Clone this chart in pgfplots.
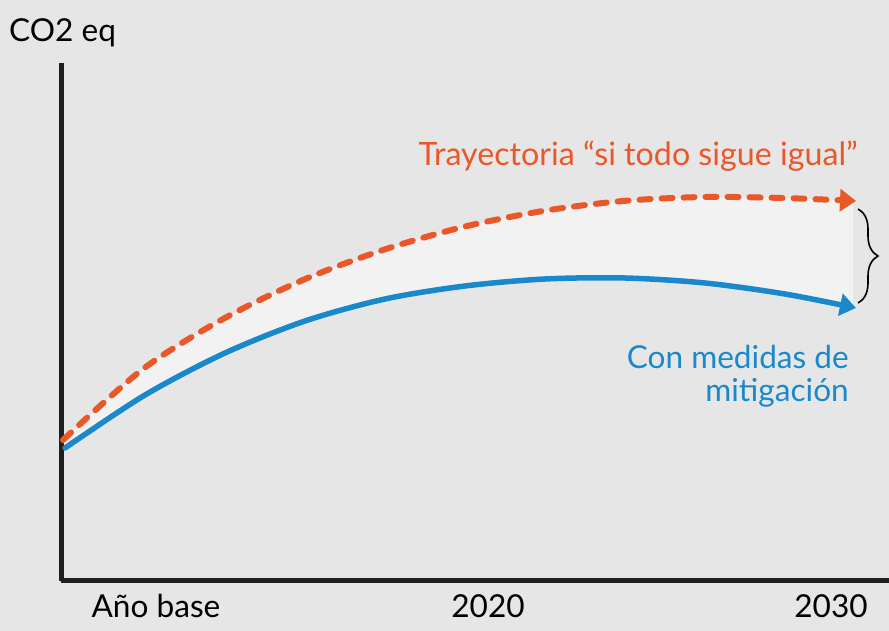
\documentclass[border=0pt]{standalone}
\usepackage{fontspec}
\setmainfont{Lato}
\usepackage{pgfplots}
\pgfplotsset{compat=1.18}
\usepgfplotslibrary{fillbetween}
\usetikzlibrary{arrows.meta,decorations.pathreplacing}
\definecolor{bg}{HTML}{E6E6E6}
\definecolor{band}{HTML}{F2F2F2}
\definecolor{orng}{HTML}{EA5729}
\definecolor{blu}{HTML}{1A89CB}
\definecolor{axc}{HTML}{1F1F1F}
\newcommand{\bigf}{\fontsize{31.6}{37}\selectfont}
\begin{document}
\begin{tikzpicture}
\begin{axis}[
  set layers,
  at={(61pt,50pt)}, anchor=south west,
  scale only axis, width=828pt, height=518pt,
  xmin=61, xmax=889, ymin=50, ymax=568,
  axis lines=left,
  axis line style={line width=5pt, color=axc, -},
  xtick={156,488,831},
  xticklabels={Año base,2020,2030},
  ytick=\empty,
  major tick length=0pt,
  xticklabel style={font=\bigf, anchor=base, yshift=-37pt, text=black},
  clip=false,
]
\begin{pgfonlayer}{axis background}
\fill[bg] (axis cs:0,0) rectangle (axis cs:889,631);
\end{pgfonlayer}
% invisible boundaries for the band
\addplot[draw=none, smooth, name path=A] coordinates {
 (63,191) (143,262) (223,312) (303,351) (383,381) (463,404) (543,420)
 (623,430) (703,434) (783,433) (853,430)};
\addplot[draw=none, smooth, name path=B] coordinates {
 (65,183) (145,236) (225,278) (305,310) (385,332) (465,345) (545,352)
 (625,353) (705,348) (785,337) (853,324)};
\addplot[band] fill between[of=A and B];
% business as usual
\addplot[orng, line width=6pt, smooth, line cap=round, dash pattern=on 11pt off 11pt,
  -{Triangle[length=16pt,width=22pt,line cap=butt]}] coordinates {
 (63,191) (143,262) (223,312) (303,351) (383,381) (463,404) (543,420)
 (623,430) (703,434) (783,433) (856,430)};
% mitigation
\addplot[blu, line width=5.5pt, smooth, line cap=round,
  -{Triangle[length=16pt,width=22pt,line cap=butt]}] coordinates {
 (65,183) (145,236) (225,278) (305,310) (385,332) (465,345) (545,352)
 (625,353) (705,348) (785,337) (856,323)};
\draw[line width=1.6pt, decorate, decoration={brace, amplitude=20pt}]
  (axis cs:858,422) -- (axis cs:858,328);
\node[anchor=base east, text=orng, font=\fontsize{32.2}{38}\selectfont, inner sep=0pt]
  at (axis cs:858,465) {Trayectoria “si todo sigue igual”};
\node[anchor=base east, text=blu, font=\bigf, inner sep=0pt]
  at (axis cs:849,262) {Con medidas de};
\node[anchor=base east, text=blu, font=\bigf, inner sep=0pt]
  at (axis cs:849,229) {mitigación};
\node[anchor=base west, text=black, font=\bigf, inner sep=0pt]
  at (axis cs:9,589) {CO2 eq};
\end{axis}
\pgfresetboundingbox
\path[use as bounding box] (0,0) rectangle (889pt,631pt);
\end{tikzpicture}
\end{document}
